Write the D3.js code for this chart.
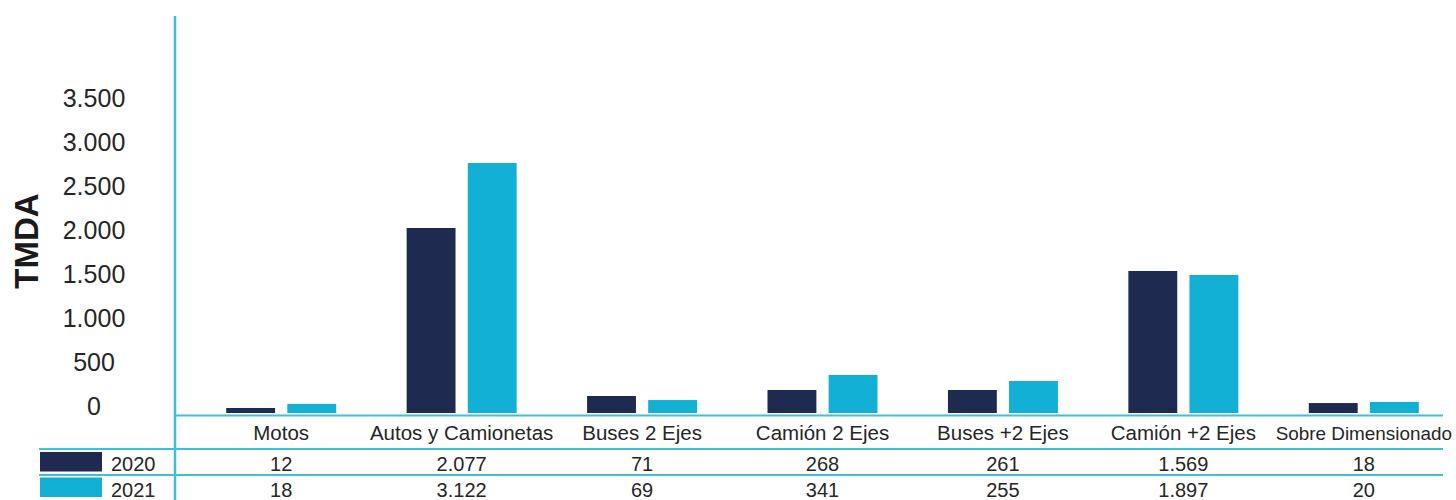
<!DOCTYPE html>
<html>
<head>
<meta charset="utf-8">
<script src="https://cdn.jsdelivr.net/npm/d3@7"></script>
<style>
  body { margin: 0; background: #fff; }
  text { font-family: "Liberation Sans", Arial, sans-serif; fill: #262626; }
</style>
</head>
<body>
<div id="chart"></div>
<script>
const categories = ["Motos", "Autos y Camionetas", "Buses 2 Ejes", "Camión 2 Ejes", "Buses +2 Ejes", "Camión +2 Ejes", "Sobre Dimensionado"];
const years = ["2020", "2021"];
// bar heights as they are drawn in the chart
const bars2020 = [57, 2099, 193, 261, 261, 1611, 113];
const bars2021 = [102, 2836, 147, 431, 363, 1566, 125];
// values printed in the table under the chart
const table2020 = [12, 2077, 71, 268, 261, 1569, 18];
const table2021 = [18, 3122, 69, 341, 255, 1897, 20];
const yTicks = [0, 500, 1000, 1500, 2000, 2500, 3000, 3500];
const yTitle = "TMDA";

const W = 1456, H = 500;
const colors = { "2020": "#1f2a51", "2021": "#12b0d4" };
const lineColor = "#40bfdb";

const locale = d3.formatLocale({ decimal: ",", thousands: ".", grouping: [3], currency: ["$", ""] });
const fmt = locale.format(",");

/** Scales */
const axisX = 175;
const y = d3.scaleLinear().domain([0, 3500]).range([413, 104.5]);

const x0 = d3.scaleBand()
  .domain(categories)
  .range([191, 1454]);

const groupW = 110;
const x1 = d3.scaleBand()
  .domain(years)
  .range([0, groupW])
  .paddingInner(0.2);

const rows = years.map((yr, i) => ({
  year: yr,
  bars: i === 0 ? bars2020 : bars2021,
  table: i === 0 ? table2020 : table2021
}));

const svg = d3.select("#chart")
  .append("svg")
  .attr("width", W)
  .attr("height", H);

/** y title */
svg.append("text")
  .attr("transform", "translate(38, 241) rotate(-90)")
  .attr("text-anchor", "middle")
  .style("font-size", "33px")
  .style("font-weight", "bold")
  .style("fill", "#1a1a1a")
  .text(yTitle);

/** y tick labels (no tick marks in the original) */
svg.append("g")
  .attr("class", "y-labels")
  .selectAll("text")
  .data(yTicks)
  .enter()
  .append("text")
  .attr("x", 94)
  .attr("y", d => y(d) - 7)
  .attr("dy", "0.36em")
  .attr("text-anchor", "middle")
  .style("font-size", "25px")
  .text(d => fmt(d));

/** bars */
const groups = svg.append("g")
  .attr("class", "bars")
  .selectAll("g")
  .data(categories)
  .enter()
  .append("g")
  .attr("transform", d => "translate(" + (x0(d) + (x0.bandwidth() - groupW) / 2) + ",0)");

groups.selectAll("rect")
  .data((c, ci) => rows.map(r => ({ year: r.year, value: r.bars[ci] })))
  .enter()
  .append("rect")
  .attr("x", d => x1(d.year))
  .attr("y", d => y(d.value))
  .attr("width", x1.bandwidth())
  .attr("height", d => y(0) - y(d.value))
  .attr("fill", d => colors[d.year]);

/** axis + table grid lines */
svg.append("line")
  .attr("x1", axisX).attr("x2", axisX)
  .attr("y1", 16).attr("y2", H)
  .attr("stroke", lineColor).attr("stroke-width", 2.5);

svg.append("line")
  .attr("x1", axisX).attr("x2", 1443)
  .attr("y1", 415.5).attr("y2", 415.5)
  .attr("stroke", lineColor).attr("stroke-width", 2);

[449, 475].forEach(ly => {
  svg.append("line")
    .attr("x1", 39).attr("x2", 1443)
    .attr("y1", ly).attr("y2", ly)
    .attr("stroke", lineColor).attr("stroke-width", 2);
});

/** category labels */
const labelSize = 20.5;
svg.append("g")
  .attr("class", "x-labels")
  .selectAll("text")
  .data(categories)
  .enter()
  .append("text")
  .attr("x", d => x0(d) + x0.bandwidth() / 2)
  .attr("y", 440)
  .attr("text-anchor", "middle")
  .style("font-size", labelSize + "px")
  .text(d => d)
  .each(function(d) {
    // shrink a label only if it would run past the edge of the picture
    const cx = x0(d) + x0.bandwidth() / 2;
    const maxW = 2 * Math.min(cx, W - 4 - cx);
    const len = this.getComputedTextLength();
    if (len > maxW) {
      d3.select(this).style("font-size", (labelSize * maxW / len) + "px");
    }
  });

/** table rows: legend swatch, year, values */
const rowBase = [471, 496.5];
const table = svg.append("g").attr("class", "table");

rows.forEach((r, i) => {
  const g = table.append("g");
  g.append("rect")
    .attr("x", 40)
    .attr("y", rowBase[i] - 19)
    .attr("width", 62)
    .attr("height", 19.5)
    .attr("fill", colors[r.year]);
  g.append("text")
    .attr("x", 111)
    .attr("y", rowBase[i])
    .style("font-size", "20px")
    .text(r.year);
  g.selectAll("text.val")
    .data(r.table)
    .enter()
    .append("text")
    .attr("class", "val")
    .attr("x", (d, ci) => x0(categories[ci]) + x0.bandwidth() / 2)
    .attr("y", rowBase[i])
    .attr("text-anchor", "middle")
    .style("font-size", "20px")
    .text(d => fmt(d));
});
</script>
</body>
</html>
